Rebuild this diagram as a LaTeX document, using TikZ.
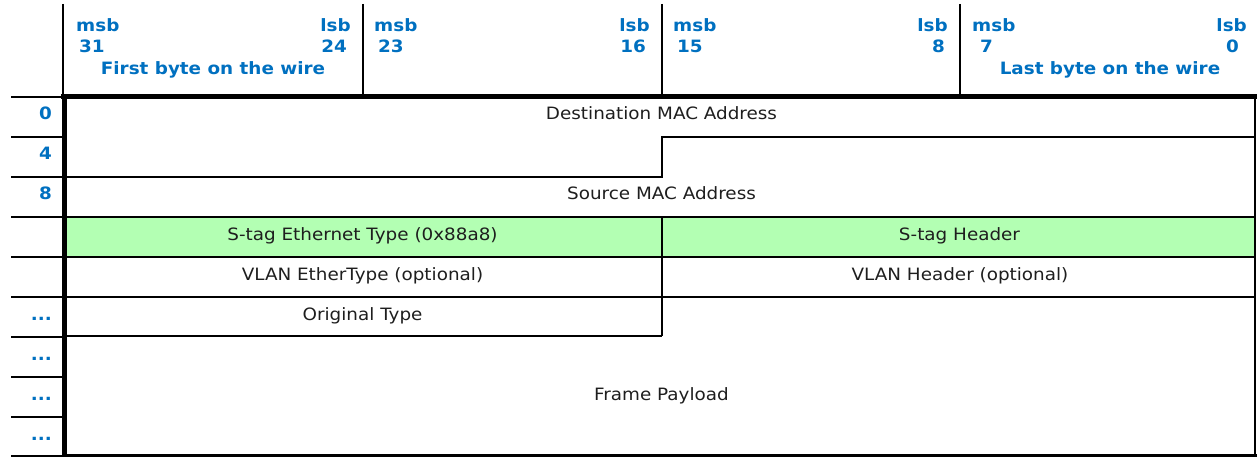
\documentclass[tikz,border=0pt]{standalone}
\usepackage{fontspec}
\setmainfont{DejaVu Sans}
\newfontfamily\fieldfam[FakeStretch=1.08]{DejaVu Sans}
\newcommand\fieldfont{\fieldfam\fontsize{17}{20}\selectfont}
\newcommand\hdrfont{\fieldfam\bfseries\fontsize{17}{20}\selectfont}
\definecolor{hdrblue}{RGB}{0,112,192}
\definecolor{sgreen}{RGB}{179,255,179}
\definecolor{fieldink}{RGB}{30,30,30}
\begin{document}
\begin{tikzpicture}[x=1pt,y=-1pt,
  rule/.style={line width=2pt},
  heavy/.style={line width=5pt},
  bodytxt/.style={font=\fieldfont, text=fieldink, inner sep=0pt, anchor=base},
  hdrtxt/.style={font=\hdrfont, text=hdrblue, inner sep=0pt},
]
\useasboundingbox (0,0) rectangle (1257,457);
% green S-tag row
\fill[sgreen] (64,217) rectangle (1255,257);
% header column separators
\foreach \x in {63,363,662,960} \draw[rule] (\x,4) -- (\x,95);
% left offset column rules
\foreach \y in {137,177,...,417} \draw[rule] (11,\y) -- (62,\y);
\draw[rule] (11,97) -- (62,97);
\draw[rule] (11,456) -- (62,456);
% field boundaries
\draw[rule] (64,177) -- (662,177) -- (662,137) -- (1256,137);
\foreach \y in {217,257,297} \draw[rule] (64,\y) -- (1256,\y);
\draw[rule] (662,217) -- (662,336);
\draw[rule] (64,336) -- (662,336);
\draw[rule] (1255,97) -- (1255,455);
\draw[line width=3pt] (62,455) -- (1257,455);
% heavy frame
\draw[heavy] (61,96.5) -- (1257,96.5);
\draw[heavy] (64,94) -- (64,456.5);

% header texts
\node[hdrtxt, anchor=base west] (msbA) at (76,32) {msb};
\node[hdrtxt, anchor=base east] (lsbA) at (351,32) {lsb};
\node[hdrtxt, anchor=base west] (hiA) at (79,53) {31};
\node[hdrtxt, anchor=base east] (loA) at (347,53) {24};
\node[hdrtxt, anchor=base] (firstbyte) at (213,75) {First byte on the wire};

\node[hdrtxt, anchor=base west] (msbB) at (374,32) {msb};
\node[hdrtxt, anchor=base east] (lsbB) at (650,32) {lsb};
\node[hdrtxt, anchor=base west] (hiB) at (378,53) {23};
\node[hdrtxt, anchor=base east] (loB) at (646,53) {16};

\node[hdrtxt, anchor=base west] (msbC) at (673,32) {msb};
\node[hdrtxt, anchor=base east] (lsbC) at (948,32) {lsb};
\node[hdrtxt, anchor=base west] (hiC) at (677,53) {15};
\node[hdrtxt, anchor=base east] (loC) at (945,53) {8};

\node[hdrtxt, anchor=base west] (msbD) at (972,32) {msb};
\node[hdrtxt, anchor=base east] (lsbD) at (1247,32) {lsb};
\node[hdrtxt, anchor=base west] (hiD) at (980,53) {7};
\node[hdrtxt, anchor=base east] (loD) at (1239,53) {0};
\node[hdrtxt, anchor=base] (lastbyte) at (1110,75) {Last byte on the wire};

% offsets
\node[hdrtxt, anchor=base east] (off0) at (52,120) {0};
\node[hdrtxt, anchor=base east] (off4) at (52,160) {4};
\node[hdrtxt, anchor=base east] (off8) at (52,200) {8};
\node[hdrtxt, anchor=base east] (offa) at (52,320) {...};
\node[hdrtxt, anchor=base east] (offb) at (52,360) {...};
\node[hdrtxt, anchor=base east] (offc) at (52,400) {...};
\node[hdrtxt, anchor=base east] (offd) at (52,440) {...};

% fields
\node[bodytxt] (dstmac) at (661.5,120) {Destination MAC Address};
\node[bodytxt] (srcmac) at (661.5,200) {Source MAC Address};
\node[bodytxt] (stagtype) at (362.5,240) {S-tag Ethernet Type (0x88a8)};
\node[bodytxt] (staghdr) at (959.5,240) {S-tag Header};
\node[bodytxt] (vlantype) at (362.5,280) {VLAN EtherType (optional)};
\node[bodytxt] (vlanhdr) at (960,280) {VLAN Header (optional)};
\node[bodytxt] (origtype) at (362.5,320) {Original Type};
\node[bodytxt] (payload) at (661.5,400) {Frame Payload};
\end{tikzpicture}
\end{document}
